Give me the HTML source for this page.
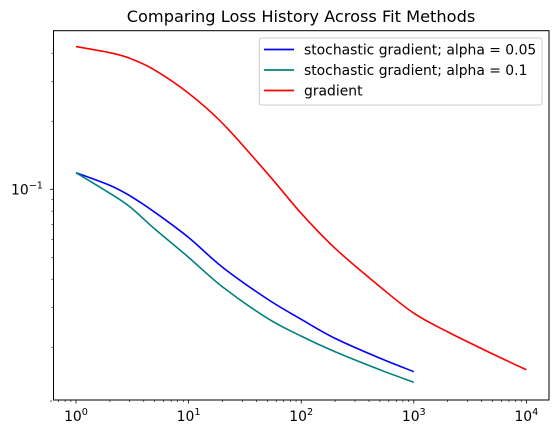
<!DOCTYPE html>
<html><head><meta charset="utf-8"><style>
html,body{margin:0;padding:0;background:#fff;}
svg{display:block;font-family:"DejaVu Sans","Liberation Sans",sans-serif;}
</style></head><body>
<svg id="chart" width="558" height="438" viewBox="0 0 558 438" xmlns="http://www.w3.org/2000/svg">
<text x="301" y="22" font-size="16.2" text-anchor="middle">Comparing Loss History Across Fit Methods</text>
<g id="plot"></g>
<rect x="53.5" y="30.7" width="495.5" height="369.3" fill="none" stroke="#000" stroke-width="1"/>
<g>
<rect x="259.3" y="38" width="282.7" height="67" rx="2" fill="#fff" fill-opacity="0.8" stroke="#ccc"/>
<line x1="264" y1="49.5" x2="294" y2="49.5" stroke="#0000ff" stroke-width="1.8"/>
<text x="304" y="54.3" font-size="13.9">stochastic gradient; alpha = 0.05</text>
<line x1="264" y1="70" x2="294" y2="70" stroke="#008080" stroke-width="1.8"/>
<text x="304" y="74.8" font-size="13.9">stochastic gradient; alpha = 0.1</text>
<line x1="264" y1="90.5" x2="294" y2="90.5" stroke="#ff0000" stroke-width="1.8"/>
<text x="304" y="95.3" font-size="13.9">gradient</text>
</g>
</svg>
<script>
const xsSgd = [1,2,3,5,10,20,50,100,200,500,1000];
const blueVals = [0.1184,0.1041,0.0937,0.0792,0.0612,0.0452,0.0327,0.0266,0.0219,0.0179,0.0156];
const tealVals = [0.1184,0.0960,0.0838,0.0668,0.0500,0.0370,0.0269,0.0224,0.0191,0.0159,0.0140];
const xsGrad = [1,2,3,5,10,20,50,100,200,500,1000,2000,5000,10000];
const redVals = [0.428,0.402,0.380,0.337,0.266,0.196,0.1177,0.0783,0.0548,0.0371,0.0283,0.0234,0.0187,0.0159];
const xTickExps = [0,1,2,3,4];
const yMajorTicks = [0.1];
const yMinorTicks = [0.02,0.03,0.04,0.05,0.06,0.07,0.08,0.09,0.2,0.3,0.4];

const NS="http://www.w3.org/2000/svg";
const g=document.getElementById('plot');
const X=v=>76+112.6*Math.log10(v);
const Y=v=>189.3-226*(Math.log10(v)+1);
const B=400;
function mk(t,a){const e=document.createElementNS(NS,t);for(const k in a)e.setAttribute(k,a[k]);g.appendChild(e);return e;}
function minorX(xm){
  const mt=mk('line',{x1:xm,x2:xm,y1:B,y2:B+2,stroke:'#000','stroke-width':0.6});
  
  
}
xTickExps.forEach(p=>{
  const x=X(Math.pow(10,p));
  const t=mk('line',{x1:x,x2:x,y1:B,y2:B+3.5,stroke:'#000','stroke-width':0.8});
  
  
  const tx=mk('text',{x:x,y:B+21,'font-size':13.9,'text-anchor':'middle'});
  
  
  tx.innerHTML='10<tspan dy="-6" font-size="9.7">'+p+'</tspan>';
  if(p<4){for(let m=2;m<10;m++)minorX(X(m*Math.pow(10,p)));}
});
for(let m=6;m<10;m++)minorX(X(m/10));
for(let m=2;m<4;m++){const xm=X(m*1e4);if(xm<549)minorX(xm);}
yMajorTicks.forEach(v=>{
  const y=Y(v);
  const t=mk('line',{x1:50,x2:53.5,y1:y,y2:y,stroke:'#000','stroke-width':0.8});
  
  
  const tx=mk('text',{x:11,y:y+5,'font-size':13.9});
  
  
  tx.innerHTML='10<tspan dy="-6" font-size="9.7">\u22121</tspan>';
});
yMinorTicks.forEach(v=>{
  const y=Y(v);
  if(y>31&&y<400){const t=mk('line',{x1:51.5,x2:53.5,y1:y,y2:y,stroke:'#000','stroke-width':0.6});
  
  }
});
function series(xs,vs,color,name){
  const P=xs.map((x,i)=>[X(x),Y(vs[i])]);
  let d='M'+P[0][0].toFixed(2)+','+P[0][1].toFixed(2);
  for(let i=0;i<P.length-1;i++){
    const p0=P[Math.max(0,i-1)],p1=P[i],p2=P[i+1],p3=P[Math.min(P.length-1,i+2)];
    const c1=[p1[0]+(p2[0]-p0[0])/6,p1[1]+(p2[1]-p0[1])/6];
    const c2=[p2[0]-(p3[0]-p1[0])/6,p2[1]-(p3[1]-p1[1])/6];
    d+='C'+c1[0].toFixed(2)+','+c1[1].toFixed(2)+' '+c2[0].toFixed(2)+','+c2[1].toFixed(2)+' '+p2[0].toFixed(2)+','+p2[1].toFixed(2);
  }
  const p=mk('path',{d:d,fill:'none',stroke:color,'stroke-width':1.6,'stroke-linejoin':'round'});
  
  
}
series(xsSgd,blueVals,'#0000ff','line-sgd-alpha-005');
series(xsSgd,tealVals,'#008080','line-sgd-alpha-01');
series(xsGrad,redVals,'#ff0000','line-gradient');
</script>
</body></html>
